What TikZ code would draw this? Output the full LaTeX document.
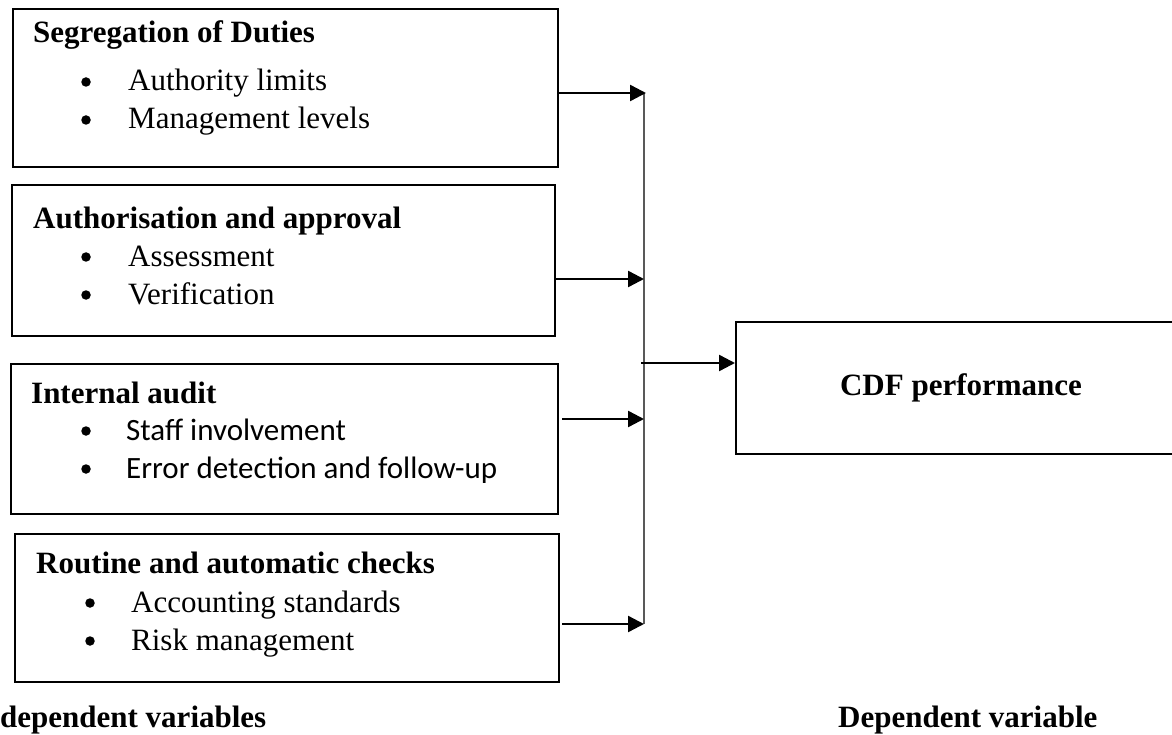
\documentclass[tikz,border=0pt]{standalone}
\usepackage{fontspec}
\setmainfont{Liberation Serif}
\newfontfamily\calibri{Carlito}
\usetikzlibrary{arrows.meta}

\tikzset{
	box/.style={draw, line width=2pt, inner sep=0pt, anchor=north west},
	head/.style={anchor=base west, inner sep=0pt, font=\fontsize{31}{36}\selectfont\bfseries},
	item/.style={anchor=base west, inner sep=0pt, font=\fontsize{31}{36}\selectfont},
	dot/.style={circle, fill, inner sep=0pt, minimum size=9.5pt},
	feed/.style={line width=2.4pt, -{Triangle[length=16pt,width=16pt]}},
	spine/.style={line width=1.5pt, black!65},
}

\begin{document}
\begin{tikzpicture}[x=1pt,y=-1pt]
			\useasboundingbox (0,0) rectangle (1172,735);
			\clip (0,0) rectangle (1172,735);
			% the four boxes on the left
			\node[box, minimum width=545pt, minimum height=158pt] (sod) at (12,8) {};
			\node[box, minimum width=543pt, minimum height=151pt] (aap) at (11,184) {};
			\node[box, minimum width=547pt, minimum height=150pt] (ia) at (10,363) {};
			\node[box, minimum width=544pt, minimum height=148pt] (rac) at (14,533) {};
			% box on the right
			\node[box, minimum width=450pt, minimum height=132pt, font=\fontsize{31}{36}\selectfont\bfseries] (cdf) at (735,321) {CDF performance};
			% texts
			\node[head] (sodh) at (33,43) {Segregation of Duties};
			\node[dot] (sod1) at (86,82) {};
			\node[item] (sodt1) at (128,91) {Authority limits};
			\node[dot] (sod2) at (86,120) {};
			\node[item] (sodt2) at (128,129) {Management levels};
			\node[head] (aaph) at (33,229) {Authorisation and approval};
			\node[dot] (aap1) at (86,257) {};
			\node[item] (aapt1) at (128,266) {Assessment};
			\node[dot] (aap2) at (86,295) {};
			\node[item] (aapt2) at (128,304) {Verification};
			\node[head] (iah) at (31,403) {Internal audit};
			\node[dot] (ia1) at (86,431) {};
			\node[item, font=\fontsize{31}{36}\calibri] (iat1) at (126,440) {Staff involvement};
			\node[dot] (ia2) at (86,469) {};
			\node[item, font=\fontsize{31}{36}\calibri] (iat2) at (126,478) {Error detection and follow-up};
			\node[head] (rach) at (36,573) {Routine and automatic checks};
			\node[dot] (rac1) at (90,603) {};
			\node[item] (ract1) at (131,612) {Accounting standards};
			\node[dot] (rac2) at (90,641) {};
			\node[item] (ract2) at (131,650) {Risk management};
			\node[head] (indep) at (0,727) {dependent variables};
			\node[head] (dep) at (838,727) {Dependent variable};
			% arrows
			\coordinate (j1) at (644,93);
			\coordinate (j2) at (644,279);
			\coordinate (j3) at (644,419);
			\coordinate (j4) at (644,624);
			\coordinate (jm) at (641,363);
			\draw[spine] (j1) -- (j4);
			\draw[feed] (sod.east |- j1) -- ([xshift=2pt]j1);
			\draw[feed] (aap.east |- j2) -- (j2);
			\draw[feed] ([xshift=3pt]ia.east |- j3) -- (j3);
			\draw[feed] ([xshift=2pt]rac.east |- j4) -- (j4);
			\draw[feed] (jm) -- (cdf.west |- jm);
			\end{tikzpicture}
\end{document}
